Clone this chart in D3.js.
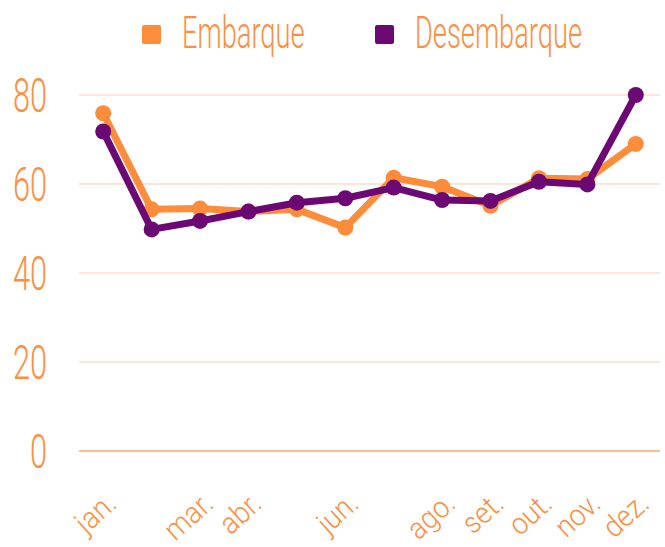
<!DOCTYPE html>
<html>
<head>
<meta charset="utf-8">
<script src="https://cdn.jsdelivr.net/npm/d3@7"></script>
<style>
  body { margin: 0; background: #fff; }
  svg { display: block; }
  text { font-family: Roboto, "Open Sans", sans-serif; font-weight: 300; }
</style>
</head>
<body>
<div id="chart"></div>
<script>
// months (x categories)
const months = ["jan.", "fev.", "mar.", "abr.", "mai.", "jun.", "jul.", "ago.", "set.", "out.", "nov.", "dez."];
// labels the original chart dropped because they would collide
const hiddenLabels = ["fev.", "mai.", "jul."];

const embarque = [75.9, 54.3, 54.5, 53.8, 54.3, 50.2, 61.4, 59.4, 55.1, 61.3, 61.1, 69.0];
const desembarque = [71.8, 49.8, 51.7, 53.8, 55.8, 56.8, 59.2, 56.4, 56.2, 60.5, 59.9, 80.0];

const yTicks = [0, 20, 40, 60, 80];

const seriesNames = ["Embarque", "Desembarque"];
const seriesColors = ["#fd8c3b", "#6b0874"];

const width = 665, height = 547;
const textColor = "#fd8f42";

const svg = d3.select("#chart").append("svg")
    .attr("width", width)
    .attr("height", height);

const x = d3.scalePoint()
    .domain(months)
    .range([79, 660])
    .padding(0.5);

const y = d3.scaleLinear()
    .domain([0, 80])
    .range([451, 95]);

// grid
svg.append("g").selectAll("line")
    .data(yTicks)
    .enter().append("line")
    .attr("x1", 79)
    .attr("x2", 660)
    .attr("y1", d => y(d))
    .attr("y2", d => y(d))
    .attr("stroke", d => d === 0 ? "#fbbf92" : "#fde6d7")
    .attr("stroke-width", 2);

// y labels (condensed look)
svg.append("g").selectAll("g")
    .data(yTicks)
    .enter().append("g")
    .attr("transform", d => "translate(47," + y(d) + ") scale(0.64,1)")
    .append("text")
    .attr("text-anchor", "end")
    .attr("dy", "0.36em")
    .attr("font-size", 48)
    .attr("fill", textColor)
    .text(d => d);

// x labels
svg.append("g").selectAll("g")
    .data(months.filter(m => hiddenLabels.indexOf(m) < 0))
    .enter().append("g")
    .attr("transform", d => "translate(" + (x(d) + 15) + ",506) rotate(-42) scale(0.92,1)")
    .append("text")
    .attr("text-anchor", "end")
    .attr("font-size", 30)
    .attr("fill", textColor)
    .text(d => d);

// lines
const line = d3.line()
    .x((d, i) => x(months[i]))
    .y(d => y(d));

[embarque, desembarque].forEach(function (values, k) {
    const g = svg.append("g");
    g.append("path")
        .datum(values)
        .attr("d", line)
        .attr("fill", "none")
        .attr("stroke", seriesColors[k])
        .attr("stroke-width", 7)
        .attr("stroke-linejoin", "round");
    g.selectAll("circle")
        .data(values)
        .enter().append("circle")
        .attr("cx", (d, i) => x(months[i]))
        .attr("cy", d => y(d))
        .attr("r", 8)
        .attr("fill", seriesColors[k]);
});

// legend
const legendX = [142, 375];
const legend = svg.append("g").selectAll("g")
    .data(seriesNames)
    .enter().append("g")
    .attr("transform", (d, i) => "translate(" + legendX[i] + ",25)");

legend.append("rect")
    .attr("width", 19)
    .attr("height", 19)
    .attr("rx", 2)
    .attr("fill", (d, i) => seriesColors[i]);

legend.append("g")
    .attr("transform", "translate(40,23) scale(0.62,1)")
    .append("text")
    .attr("font-size", 44)
    .attr("fill", textColor)
    .text(d => d);
</script>
</body>
</html>
